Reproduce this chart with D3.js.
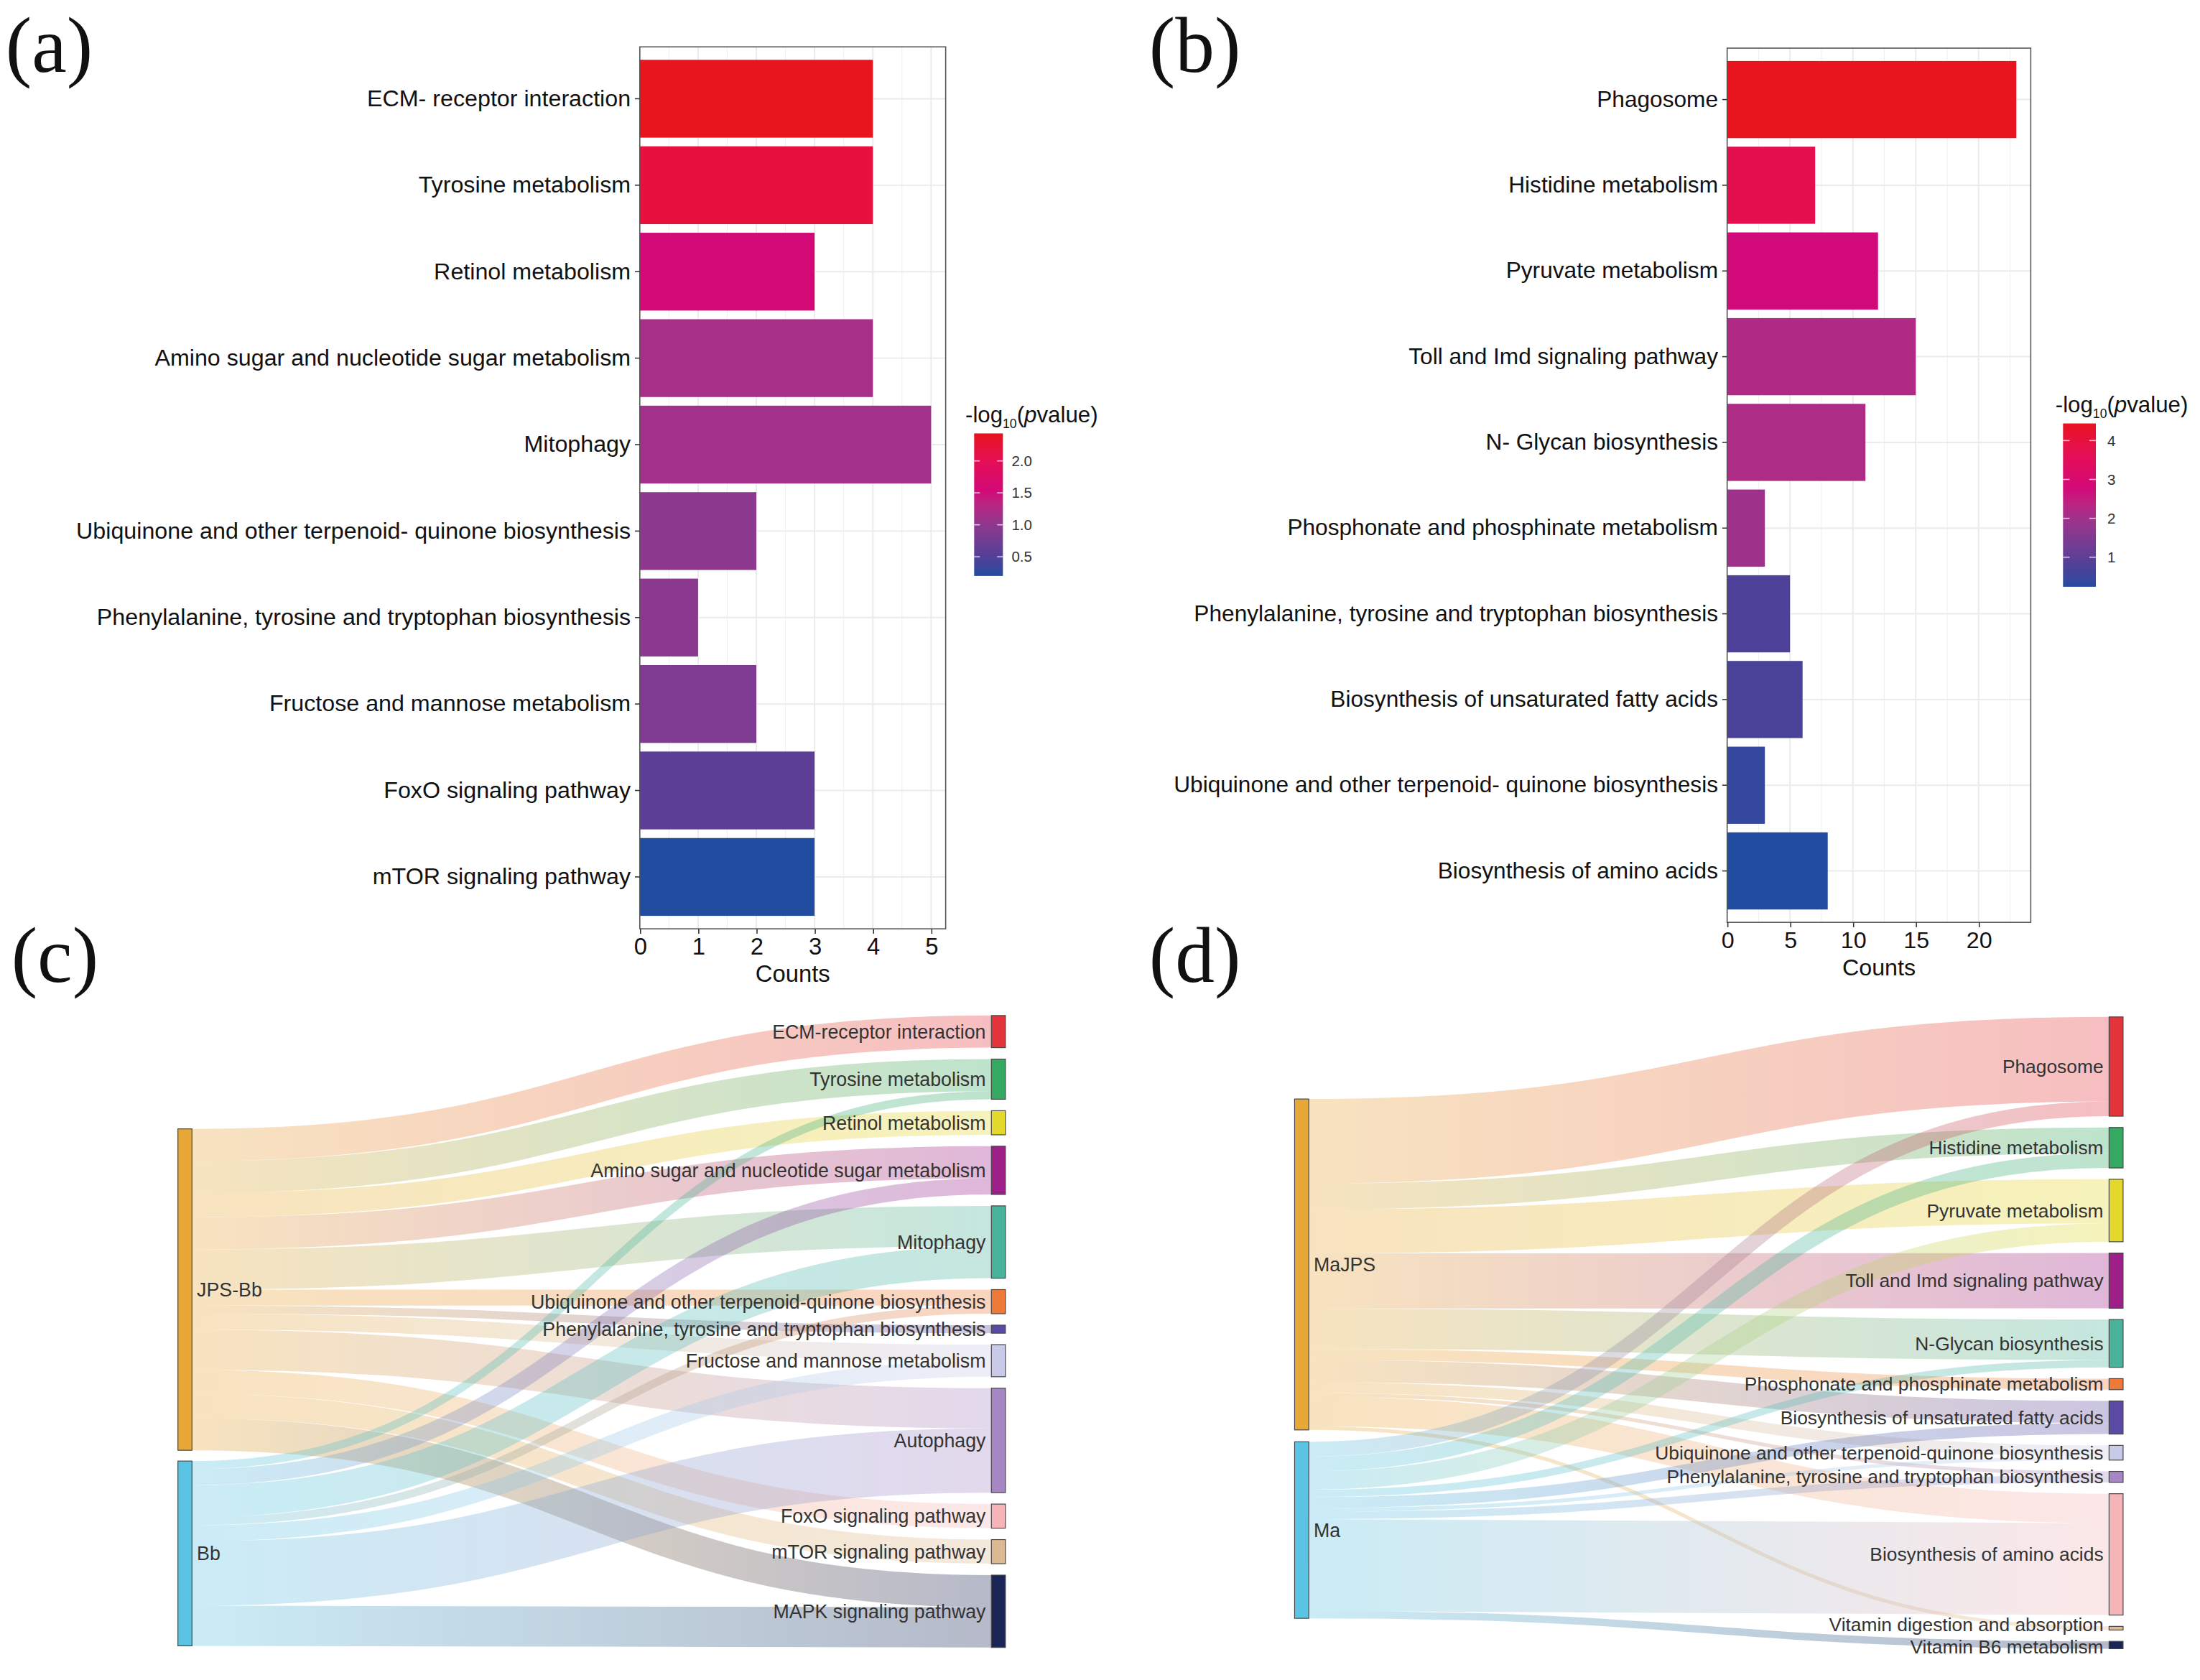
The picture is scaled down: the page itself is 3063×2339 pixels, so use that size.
<!DOCTYPE html>
<html>
<head>
<meta charset="utf-8">
<script src="https://cdn.jsdelivr.net/npm/d3@7"></script>
<style>
  html, body { margin: 0; padding: 0; background: #ffffff; }
  svg { display: block; }
</style>
</head>
<body>
<svg id="fig" width="3063" height="2339" viewBox="0 0 1568 1197.4"></svg>
<script>
// ---------------- DATA ----------------
// Panel (a)
const aCategories = [
  "ECM- receptor interaction",
  "Tyrosine metabolism",
  "Retinol metabolism",
  "Amino sugar and nucleotide sugar metabolism",
  "Mitophagy",
  "Ubiquinone and other terpenoid- quinone biosynthesis",
  "Phenylalanine, tyrosine and tryptophan biosynthesis",
  "Fructose and mannose metabolism",
  "FoxO signaling pathway",
  "mTOR signaling pathway"
];
const aCounts = [4, 4, 3, 4, 5, 2, 1, 2, 3, 3];
const aLogP = [2.43, 2.2, 1.55, 1.18, 1.14, 0.98, 0.97, 0.87, 0.58, 0.2];
const aXTicks = [0, 1, 2, 3, 4, 5];
const aColorTicks = [0.5, 1.0, 1.5, 2.0];

// Panel (b)
const bCategories = [
  "Phagosome",
  "Histidine metabolism",
  "Pyruvate metabolism",
  "Toll and Imd signaling pathway",
  "N- Glycan biosynthesis",
  "Phosphonate and phosphinate metabolism",
  "Phenylalanine, tyrosine and tryptophan biosynthesis",
  "Biosynthesis of unsaturated fatty acids",
  "Ubiquinone and other terpenoid- quinone biosynthesis",
  "Biosynthesis of amino acids"
];
const bCounts = [23, 7, 12, 15, 11, 3, 5, 6, 3, 8];
const bLogP = [4.44, 3.73, 2.76, 2.21, 2.17, 1.96, 0.74, 0.70, 0.41, 0.24];
const bXTicks = [0, 5, 10, 15, 20];
const bColorTicks = [1, 2, 3, 4];

// Panel (c) Sankey
const cSources = ["JPS-Bb", "Bb"];
const cTargets = [
  "ECM-receptor interaction",
  "Tyrosine metabolism",
  "Retinol metabolism",
  "Amino sugar and nucleotide sugar metabolism",
  "Mitophagy",
  "Ubiquinone and other terpenoid-quinone biosynthesis",
  "Phenylalanine, tyrosine and tryptophan biosynthesis",
  "Fructose and mannose metabolism",
  "Autophagy",
  "FoxO signaling pathway",
  "mTOR signaling pathway",
  "MAPK signaling pathway"
];
const cFromJPSBb = [4, 4, 3, 4, 5, 2, 1, 2, 5, 3, 3, 4];
const cFromBb    = [0, 1, 0, 2, 4, 1, 0, 2, 8, 0, 0, 5];

// Panel (d) Sankey
const dSources = ["MaJPS", "Ma"];
const dTargets = [
  "Phagosome",
  "Histidine metabolism",
  "Pyruvate metabolism",
  "Toll and Imd signaling pathway",
  "N-Glycan biosynthesis",
  "Phosphonate and phosphinate metabolism",
  "Biosynthesis of unsaturated fatty acids",
  "Ubiquinone and other terpenoid-quinone biosynthesis",
  "Phenylalanine, tyrosine and tryptophan biosynthesis",
  "Biosynthesis of amino acids",
  "Vitamin digestion and absorption",
  "Vitamin B6 metabolism"
];
const dFromMaJPS = [23, 7, 12, 15, 11, 3, 6, 3, 1, 8, 1, 0];
const dFromMa    = [4, 4, 5, 0, 2, 0, 3, 1, 2, 25, 0, 2];

// Colours
const sourceColors = ["#E8A838", "#5BC3E3"];
const targetColors = ["#E3343C", "#35A862", "#E3D82C", "#9E1F87", "#48B39A", "#EE7A3A",
                      "#5B4AA4", "#C9C9E8", "#A786C4", "#F5B5B8", "#DDB993", "#1B2656"];
const gradientStops = [0, 0.13, 0.36, 0.58, 0.81, 1];
const gradientColors = ["#214CA0", "#4F3F98", "#8E378F", "#D0097B", "#E50F55", "#E8141E"];

// ---------------- DRAWING ----------------
const svg = d3.select("#fig");
svg.append("rect").attr("x", 0).attr("y", 0).attr("width", 1568).attr("height", 1197.4).attr("fill", "#ffffff");
const defs = svg.append("defs");
const SANS = "'Liberation Sans', Arial, Helvetica, sans-serif";
const SERIF = "'Liberation Serif', 'Times New Roman', serif";

function makeColor(domain) {
  const s = d3.scaleLinear().domain(gradientStops).range(gradientColors).interpolate(d3.interpolateLab).clamp(true);
  const n = d3.scaleLinear().domain(domain).range([0, 1]);
  return v => s(n(v));
}

function drawBarPanel(cfg) {
  const g = svg.append("g");
  const x = d3.scaleLinear().domain([0, cfg.xMax]).range([cfg.left, cfg.right]);
  const y = d3.scaleBand().domain(cfg.cats).range([cfg.top, cfg.bottom])
    .paddingInner(0.1).paddingOuter(0.15);
  const color = makeColor(cfg.pDomain);

  // minor vertical grid
  const minor = d3.range(cfg.minorStep, cfg.xMax, cfg.minorStep * 2);
  g.selectAll("line.minor").data(minor).join("line")
    .attr("x1", d => x(d)).attr("x2", d => x(d))
    .attr("y1", cfg.top).attr("y2", cfg.bottom)
    .attr("stroke", "#EFEFEF").attr("stroke-width", 0.5);
  // major vertical grid
  g.selectAll("line.major").data(cfg.xTicks).join("line")
    .attr("x1", d => x(d)).attr("x2", d => x(d))
    .attr("y1", cfg.top).attr("y2", cfg.bottom)
    .attr("stroke", "#EBEBEB").attr("stroke-width", 1);
  // horizontal grid
  g.selectAll("line.hgrid").data(cfg.cats).join("line")
    .attr("x1", cfg.left).attr("x2", cfg.right)
    .attr("y1", d => y(d) + y.bandwidth() / 2).attr("y2", d => y(d) + y.bandwidth() / 2)
    .attr("stroke", "#EBEBEB").attr("stroke-width", 1);

  // bars
  g.selectAll("rect.bar").data(cfg.cats).join("rect")
    .attr("x", x(0))
    .attr("y", d => y(d))
    .attr("width", (d, i) => x(cfg.counts[i]) - x(0))
    .attr("height", y.bandwidth())
    .attr("fill", (d, i) => color(cfg.logp[i]));

  // panel border
  g.append("rect")
    .attr("x", cfg.left).attr("y", cfg.top)
    .attr("width", cfg.right - cfg.left).attr("height", cfg.bottom - cfg.top)
    .attr("fill", "none").attr("stroke", "#555").attr("stroke-width", 0.8);

  // axes
  const ax = g.append("g").attr("transform", `translate(0,${cfg.bottom})`)
    .call(d3.axisBottom(x).tickValues(cfg.xTicks).tickFormat(d3.format("d")).tickSize(3.5).tickSizeOuter(0).tickPadding(3));
  ax.select(".domain").remove();
  ax.selectAll("line").attr("stroke", "#333").attr("stroke-width", 0.8);
  ax.selectAll("text").attr("font-family", SANS).attr("font-size", cfg.tickFs).attr("fill", "#111");

  const ay = g.append("g").attr("transform", `translate(${cfg.left},0)`)
    .call(d3.axisLeft(y).tickSize(3.5).tickSizeOuter(0).tickPadding(3));
  ay.select(".domain").remove();
  ay.selectAll("line").attr("stroke", "#333").attr("stroke-width", 0.8);
  ay.selectAll("text").attr("font-family", SANS).attr("font-size", cfg.fs).attr("fill", "#111");

  g.append("text")
    .attr("x", (cfg.left + cfg.right) / 2).attr("y", cfg.bottom + 38)
    .attr("text-anchor", "middle")
    .attr("font-family", SANS).attr("font-size", cfg.tickFs).attr("fill", "#111")
    .text("Counts");

  // colour legend
  const L = cfg.legend;
  const gid = "grad" + cfg.id;
  const lg = defs.append("linearGradient").attr("id", gid)
    .attr("x1", 0).attr("y1", 1).attr("x2", 0).attr("y2", 0);
  d3.range(0, 1.0001, 0.05).forEach(t => {
    lg.append("stop").attr("offset", t)
      .attr("stop-color", color(cfg.pDomain[0] + t * (cfg.pDomain[1] - cfg.pDomain[0])));
  });
  const ly = d3.scaleLinear().domain(cfg.pDomain).range([L.y + L.h, L.y]);
  g.append("rect").attr("x", L.x).attr("y", L.y).attr("width", L.w).attr("height", L.h)
    .attr("fill", `url(#${gid})`);
  const tw = L.w * 0.2;
  g.selectAll("line.ltl").data(cfg.colorTicks).join("line")
    .attr("x1", L.x).attr("x2", L.x + tw)
    .attr("y1", d => ly(d)).attr("y2", d => ly(d))
    .attr("stroke", "#ffffff").attr("stroke-opacity", 0.75).attr("stroke-width", 0.8);
  g.selectAll("line.ltr").data(cfg.colorTicks).join("line")
    .attr("x1", L.x + L.w - tw).attr("x2", L.x + L.w)
    .attr("y1", d => ly(d)).attr("y2", d => ly(d))
    .attr("stroke", "#ffffff").attr("stroke-opacity", 0.75).attr("stroke-width", 0.8);
  g.selectAll("text.ll").data(cfg.colorTicks).join("text")
    .attr("x", L.labelX).attr("y", d => ly(d)).attr("dy", "0.35em")
    .attr("font-family", SANS).attr("font-size", 10.5).attr("fill", "#333")
    .text(d => d3.format(cfg.legendFormat)(d));
  const title = g.append("text").attr("x", L.titleX).attr("y", L.titleY)
    .attr("font-family", SANS).attr("font-size", 16).attr("fill", "#111");
  title.append("tspan").text("-log");
  title.append("tspan").attr("font-size", 9).attr("dy", 4).text("10");
  title.append("tspan").attr("dy", -4).text("(");
  title.append("tspan").attr("font-style", "italic").text("p");
  title.append("tspan").text("value)");
}

drawBarPanel({
  id: "a", cats: aCategories, counts: aCounts, logp: aLogP,
  left: 456, right: 674, top: 33.4, bottom: 662,
  xMax: 5 * 1.05, xTicks: aXTicks, minorStep: 0.5,
  pDomain: [0.2, 2.43], colorTicks: aColorTicks, legendFormat: ".1f", fs: 16.5, tickFs: 16.8,
  legend: { x: 694.3, y: 308.9, w: 20.5, h: 101.6, labelX: 721, titleX: 688, titleY: 301 }
});
drawBarPanel({
  id: "b", cats: bCategories, counts: bCounts, logp: bLogP,
  left: 1231, right: 1447.4, top: 34.3, bottom: 657.4,
  xMax: 23 * 1.05, xTicks: bXTicks, minorStep: 2.5,
  pDomain: [0.24, 4.44], colorTicks: bColorTicks, legendFormat: "d", fs: 16.2, tickFs: 16.5,
  legend: { x: 1470.4, y: 301.8, w: 23.4, h: 116.4, labelX: 1502, titleX: 1465, titleY: 294 }
});

function drawSankey(cfg) {
  const g = svg.append("g");
  const flows = cfg.flows; // flows[sourceIndex][targetIndex]
  const nT = cfg.targets.length;
  const nS = cfg.sources.length;
  const tTotals = cfg.targets.map((t, j) => d3.sum(flows, f => f[j]));
  const sTotals = flows.map(f => d3.sum(f));
  const grand = d3.sum(tTotals);
  const unit = (cfg.tBottom - cfg.tTop - (nT - 1) * cfg.tPad) / grand;
  const v = d3.scaleLinear().domain([0, 1]).range([0, unit]);

  // node positions
  const tNodes = [];
  let yy = cfg.tTop;
  cfg.targets.forEach((t, j) => {
    tNodes.push({ name: t, y0: yy, y1: yy + v(tTotals[j]), color: cfg.tColors[j], dy: (cfg.labelShift || {})[j] || 0 });
    yy += v(tTotals[j]) + cfg.tPad;
  });
  const sNodes = [];
  yy = cfg.sTop;
  cfg.sources.forEach((s, i) => {
    sNodes.push({ name: s, y0: yy, y1: yy + v(sTotals[i]), color: cfg.sColors[i] });
    yy += v(sTotals[i]) + cfg.sPad;
  });

  // links
  const links = [];
  const sOff = sNodes.map(n => n.y0);
  const tOff = tNodes.map(n => n.y0);
  flows.forEach((f, i) => {
    f.forEach((val, j) => {
      if (val > 0) {
        const w = v(val);
        links.push({ s: i, t: j, w: w, ys: sOff[i] + w / 2 });
        sOff[i] += w;
      }
    });
  });
  for (let j = 0; j < nT; j++) {
    for (let i = 0; i < nS; i++) {
      const l = links.find(d => d.s === i && d.t === j);
      if (l) { l.yt = tOff[j] + l.w / 2; tOff[j] += l.w; }
    }
  }

  const linkGen = d3.linkHorizontal()
    .source(d => [cfg.sx1, d.ys])
    .target(d => [cfg.tx0, d.yt]);

  links.forEach((l, k) => {
    const id = `lg_${cfg.id}_${k}`;
    const gr = defs.append("linearGradient").attr("id", id)
      .attr("gradientUnits", "userSpaceOnUse")
      .attr("x1", cfg.sx1).attr("x2", cfg.tx0).attr("y1", 0).attr("y2", 0);
    gr.append("stop").attr("offset", 0).attr("stop-color", sNodes[l.s].color);
    gr.append("stop").attr("offset", 1).attr("stop-color", tNodes[l.t].color);
    l.grad = id;
  });

  g.selectAll("path.link").data(links).join("path")
    .attr("d", linkGen)
    .attr("fill", "none")
    .attr("stroke", d => `url(#${d.grad})`)
    .attr("stroke-opacity", 0.32)
    .attr("stroke-width", d => d.w);

  // nodes
  g.selectAll("rect.snode").data(sNodes).join("rect")
    .attr("x", cfg.sx0).attr("y", d => d.y0)
    .attr("width", cfg.sx1 - cfg.sx0).attr("height", d => d.y1 - d.y0)
    .attr("fill", d => d.color).attr("stroke", "#444").attr("stroke-width", 0.6);
  g.selectAll("rect.tnode").data(tNodes).join("rect")
    .attr("x", cfg.tx0).attr("y", d => d.y0)
    .attr("width", cfg.tx1 - cfg.tx0).attr("height", d => d.y1 - d.y0)
    .attr("fill", d => d.color).attr("stroke", "#444").attr("stroke-width", 0.6);

  // labels
  g.selectAll("text.slab").data(sNodes).join("text")
    .attr("x", cfg.sx1 + 3.5).attr("y", d => (d.y0 + d.y1) / 2).attr("dy", "0.35em")
    .attr("font-family", SANS).attr("font-size", 13.7).attr("fill", "#333")
    .text(d => d.name);
  g.selectAll("text.tlab").data(tNodes).join("text")
    .attr("x", cfg.tx0 - 4).attr("y", d => (d.y0 + d.y1) / 2 + d.dy).attr("dy", "0.35em")
    .attr("text-anchor", "end")
    .attr("font-family", SANS).attr("font-size", cfg.tFs || 13.7).attr("fill", "#333")
    .text(d => d.name);
}

drawSankey({
  id: "c", sources: cSources, targets: cTargets, flows: [cFromJPSBb, cFromBb],
  sColors: sourceColors, tColors: targetColors,
  sx0: 126.8, sx1: 136.8, tx0: 706.6, tx1: 716.6,
  tTop: 723.8, tBottom: 1174.2, tPad: 8.15, sTop: 804.6, sPad: 7.7
});
drawSankey({
  id: "d", sources: dSources, targets: dTargets, flows: [dFromMaJPS, dFromMa],
  sColors: sourceColors, tColors: targetColors,
  sx0: 922.7, sx1: 932.8, tx0: 1503.2, tx1: 1513.2,
  tTop: 724.8, tBottom: 1175.1, tPad: 8.06, sTop: 783.3, sPad: 8.5,
  tFs: 13.5, labelShift: { 10: -2.5, 11: 1.5 }
});

// panel letters
const panelLabels = [["(a)", 4, 51], ["(b)", 819, 51], ["(c)", 8, 700], ["(d)", 819, 700]];
svg.selectAll("text.panel").data(panelLabels).join("text")
  .attr("x", d => d[1]).attr("y", d => d[2])
  .attr("font-family", SERIF).attr("font-size", 56).attr("fill", "#111")
  .text(d => d[0]);
</script>
</body>
</html>
